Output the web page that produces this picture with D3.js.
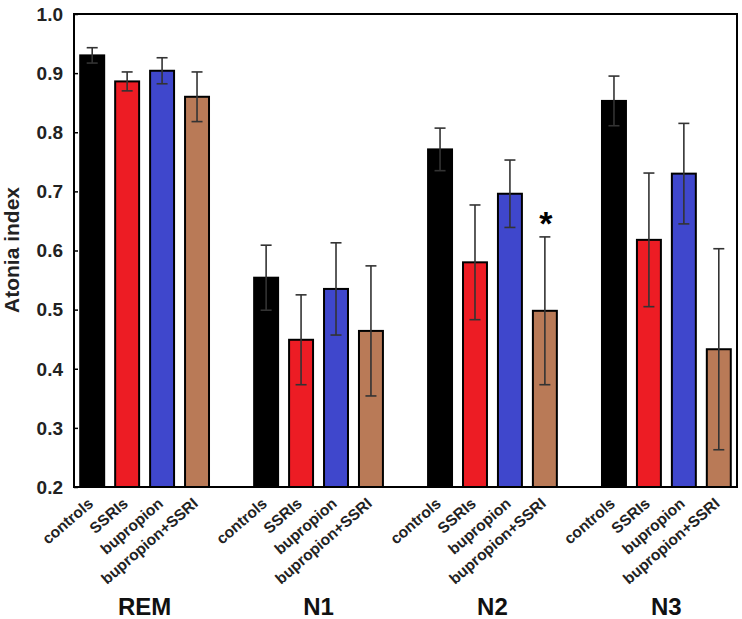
<!DOCTYPE html>
<html>
<head>
<meta charset="utf-8">
<script src="https://cdn.jsdelivr.net/npm/d3@7"></script>
<style>
  html, body { margin: 0; padding: 0; background: #fff; }
  svg { display: block; font-family: "Liberation Sans", Arial, sans-serif; }
</style>
</head>
<body>
<svg id="chart" width="742" height="619"></svg>
<script>
const stages = ["REM", "N1", "N2", "N3"];
const groups = ["controls", "SSRIs", "bupropion", "bupropion+SSRI"];
const colors = ["#000000", "#ED1C24", "#3F47CC", "#B97A57"];
const yTicks = [0.2, 0.3, 0.4, 0.5, 0.6, 0.7, 0.8, 0.9, 1.0];

// mean values per stage, order = groups
const REMvalues = [0.930, 0.886, 0.904, 0.860];
const N1values  = [0.554, 0.449, 0.535, 0.464];
const N2values  = [0.771, 0.580, 0.696, 0.498];
const N3values  = [0.853, 0.618, 0.730, 0.433];
// error (half-range) per stage
const REMerr = [0.013, 0.016, 0.022, 0.042];
const N1err  = [0.055, 0.076, 0.078, 0.110];
const N2err  = [0.036, 0.097, 0.057, 0.125];
const N3err  = [0.042, 0.113, 0.085, 0.170];
// significance markers: [stage, group]
const marks = [["N2", "bupropion+SSRI"]];

const valuesByStage = { REM: REMvalues, N1: N1values, N2: N2values, N3: N3values };
const errByStage = { REM: REMerr, N1: N1err, N2: N2err, N3: N3err };

const data = [];
stages.forEach(s => groups.forEach((g, i) => {
  data.push({ stage: s, group: g, value: valuesByStage[s][i], err: errByStage[s][i], color: colors[i] });
}));

const svg = d3.select("#chart");
const mLeft = 74, mRight = 737, mTop = 14, mBottom = 487;

const x0 = d3.scaleBand().domain(stages).range([mLeft, mRight]).paddingInner(0.248).paddingOuter(0.03);
const x1 = d3.scaleBand().domain(groups).range([0, x0.bandwidth()]).paddingInner(0.257).paddingOuter(0);
const y = d3.scaleLinear().domain([0.2, 1.0]).range([mBottom, mTop]);

// bars
svg.append("g").selectAll("rect").data(data).join("rect")
  .attr("x", d => x0(d.stage) + x1(d.group) + 1)
  .attr("y", d => y(d.value))
  .attr("width", x1.bandwidth() - 2)
  .attr("height", d => y(0.2) - y(d.value))
  .attr("fill", d => d.color)
  .attr("stroke", "#000")
  .attr("stroke-width", 2);

// error bars
const eg = svg.append("g").attr("stroke", "#333").attr("stroke-width", 1.6).attr("fill", "none");
data.forEach(d => {
  const cx = x0(d.stage) + x1(d.group) + x1.bandwidth() / 2;
  const y1 = y(d.value + d.err), y2 = y(d.value - d.err);
  eg.append("line").attr("x1", cx).attr("x2", cx).attr("y1", y1).attr("y2", y2);
  eg.append("line").attr("x1", cx - 5.5).attr("x2", cx + 5.5).attr("y1", y1).attr("y2", y1);
  eg.append("line").attr("x1", cx - 5.5).attr("x2", cx + 5.5).attr("y1", y2).attr("y2", y2);
});

// significance asterisks
marks.forEach(([s, g]) => {
  const d = data.find(e => e.stage === s && e.group === g);
  const cx = x0(s) + x1(g) + x1.bandwidth() / 2;
  svg.append("text")
    .attr("x", cx + 1)
    .attr("y", y(d.value + d.err) - 2)
    .attr("text-anchor", "middle")
    .attr("font-size", 34)
    .attr("font-weight", "bold")
    .text("*");
});

// frame
svg.append("rect")
  .attr("x", mLeft).attr("y", mTop)
  .attr("width", mRight - mLeft).attr("height", mBottom - mTop)
  .attr("fill", "none").attr("stroke", "#000").attr("stroke-width", 2);

// y axis (inward ticks)
const yAxis = d3.axisRight(y).tickValues(yTicks).tickSize(4).tickFormat("");
const yg = svg.append("g").attr("transform", `translate(${mLeft},0)`).call(yAxis);
yg.select(".domain").remove();
yg.selectAll(".tick line").attr("stroke", "#000").attr("stroke-width", 1.5);

svg.append("g").selectAll("text").data(yTicks).join("text")
  .attr("x", 63)
  .attr("y", d => y(d))
  .attr("dy", "0.36em")
  .attr("text-anchor", "end")
  .attr("font-size", 19)
  .attr("font-weight", "bold")
  .attr("fill", "#222")
  .text(d3.format(".1f"));

// y title
svg.append("text")
  .attr("transform", "translate(19,250) rotate(-90)")
  .attr("text-anchor", "middle")
  .attr("font-size", 21)
  .attr("font-weight", "bold")
  .attr("fill", "#222")
  .text("Atonia index");

// x category labels (rotated)
svg.append("g").selectAll("text").data(data).join("text")
  .attr("transform", d => {
    const cx = x0(d.stage) + x1(d.group) + x1.bandwidth() / 2;
    return `translate(${cx + 2},${mBottom + 18}) rotate(-41)`;
  })
  .attr("text-anchor", "end")
  .attr("font-size", 15.5)
  .attr("font-weight", "bold")
  .attr("fill", "#222")
  .text(d => d.group);

// stage labels
svg.append("g").selectAll("text").data(stages).join("text")
  .attr("x", d => x0(d) + x0.bandwidth() / 2)
  .attr("y", 615)
  .attr("text-anchor", "middle")
  .attr("font-size", 24)
  .attr("font-weight", "bold")
  .attr("fill", "#111")
  .text(d => d);
</script>
</body>
</html>
